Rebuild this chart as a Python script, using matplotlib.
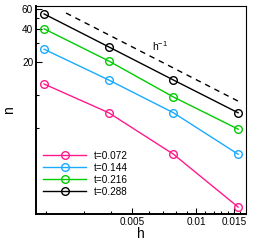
import matplotlib
matplotlib.use("Agg")
import matplotlib.pyplot as plt
from matplotlib.ticker import FixedLocator, NullFormatter, FixedFormatter

plt.rcParams['font.family'] = ['Liberation Sans', 'DejaVu Sans']
plt.rcParams['mathtext.fontset'] = 'custom'
plt.rcParams['mathtext.rm'] = 'Liberation Sans'

h = [1/512, 1/256, 1/128, 1/64]
labels = ['t=0.072', 't=0.144', 't=0.216', 't=0.288']
n_072 = [12.6, 6.9, 2.9, 0.96]
n_144 = [26.1, 13.7, 6.9, 2.9]
n_216 = [40.0, 20.4, 9.6, 4.9]
n_288 = [54.6, 27.4, 13.7, 6.9]
colors = ['#ff1a8c', '#1aaaff', '#00cc00', '#000000']
ref_h = [0.00247, 0.0161]
ref_C = 0.1376
xticks_major = [0.005, 0.01, 0.015]
xtick_labels = ['0.005', '0.01', '0.015']
yticks_major = [20, 40, 60]
ytick_labels = ['20', '40', '60']

fig = plt.figure(figsize=(2.71, 2.41), dpi=100)
ax = fig.add_axes([36/271, 1-214/241, 210/271, 208/241])
ax.set_xscale('log')
ax.set_yscale('log')

for vals, c, lab in zip([n_072, n_144, n_216, n_288], colors, labels):
    ax.plot(h, vals, '-', color=c, lw=1.0, marker='o', ms=5.5, mfc='none',
            mec=c, mew=1.0, label=lab)

ax.plot(ref_h, [ref_C/x for x in ref_h], '--', color='black', lw=1.0,
        dashes=(4, 3.5))
ax.text(0.0062, 28, r'h$^{\mathregular{-1}}$', fontsize=7.5, ha='left', va='center')

ax.set_xlim(0.00179, 0.0170)
ax.set_ylim(0.83, 64.5)

ax.xaxis.set_major_locator(FixedLocator(xticks_major))
ax.xaxis.set_major_formatter(FixedFormatter(xtick_labels))
xminor = [0.002, 0.003, 0.004, 0.006, 0.007, 0.008, 0.009, 0.011, 0.012, 0.013, 0.014, 0.016]
ax.xaxis.set_minor_locator(FixedLocator(xminor))
ax.xaxis.set_minor_formatter(NullFormatter())
ax.yaxis.set_major_locator(FixedLocator(yticks_major))
ax.yaxis.set_major_formatter(FixedFormatter(ytick_labels))
ax.yaxis.set_minor_locator(FixedLocator([5, 10, 30, 50]))
ax.yaxis.set_minor_formatter(NullFormatter())

ax.tick_params(which='both', direction='in', top=False, right=False,
               labelsize=7.2, pad=2, width=0.8)
ax.tick_params(which='major', length=4)
ax.tick_params(which='minor', length=2.5)

ax.spines['left'].set_linewidth(1.4)
ax.spines['bottom'].set_linewidth(1.4)
ax.spines['top'].set_linewidth(0.8)
ax.spines['right'].set_linewidth(0.8)

ax.set_xlabel('h', fontsize=10, labelpad=0)
ax.set_ylabel('n', fontsize=10, labelpad=4, rotation=90)

leg = ax.legend(loc='lower left', bbox_to_anchor=(0.0, 0.05), frameon=False,
                fontsize=7.2, handlelength=4.3, labelspacing=0.2,
                handletextpad=0.8, borderaxespad=0.3)

fig.savefig('out.png', dpi=100)
